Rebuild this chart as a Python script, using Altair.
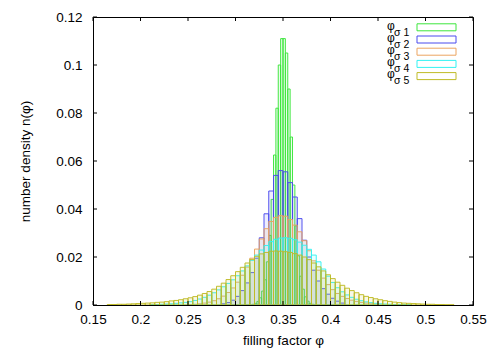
import altair as alt
import pandas as pd

# ---------------- data ----------------
series_names = ["1", "2", "3", "4", "5"]
stroke_colors = ["#3ce63c", "#4a4aee", "#eba460", "#33f2f2", "#bfbb26"]
fill_colors = ["#3ce63c", "#4a4aee", "#eba460", "#33f2f2", "#bfbb26"]

# series 1 (bins 0.0025 wide, first left edge 0.3175)
s1_start, s1_width = 0.3175, 0.0025
s1_vals = [0.0003, 0.0007, 0.0015, 0.0030, 0.0058, 0.0105, 0.0180, 0.0290,
           0.0440, 0.0625, 0.0820, 0.1000, 0.1110, 0.1110, 0.1050, 0.0900,
           0.0700, 0.0500, 0.0330, 0.0205, 0.0120, 0.0066, 0.0034, 0.0016,
           0.0007, 0.0003]

# series 2 (bins 0.005 wide, first left edge 0.285)
s2_start, s2_width = 0.285, 0.005
s2_vals = [0.0005, 0.0010, 0.0020, 0.0036, 0.0060, 0.0092, 0.0135, 0.0195,
           0.0280, 0.0380, 0.0475, 0.0540, 0.0560, 0.0555, 0.0510, 0.0450,
           0.0360, 0.0270, 0.0200, 0.0145, 0.0100, 0.0068, 0.0045, 0.0028,
           0.0016, 0.0008]

# series 3 (first left edge 0.25)
s3_start, s3_width = 0.25, 0.005
s3_vals = [0.0002, 0.0003, 0.0005, 0.0008, 0.0012, 0.0018, 0.0026, 0.0037,
           0.0052, 0.0071, 0.0095, 0.0124, 0.0158, 0.0195, 0.0233, 0.0275,
           0.0318, 0.0348, 0.0365, 0.0372, 0.0370, 0.0356, 0.0333, 0.0305,
           0.0268, 0.0226, 0.0184, 0.0145, 0.0112, 0.0085, 0.0064, 0.0048,
           0.0036, 0.0027, 0.0020, 0.0015, 0.0011, 0.0008, 0.0005, 0.0003]

# series 4 (first left edge 0.21)
s4_start, s4_width = 0.21, 0.005
s4_vals = [0.0001, 0.0002, 0.0003, 0.0004, 0.0005, 0.0007, 0.0009, 0.0011,
           0.0014, 0.0019, 0.0025, 0.0032, 0.0041, 0.0051, 0.0063, 0.0076,
           0.0090, 0.0105, 0.0122, 0.0142, 0.0163, 0.0186, 0.0208, 0.0229,
           0.0248, 0.0264, 0.0274, 0.0279, 0.0280, 0.0278, 0.0272, 0.0262,
           0.0249, 0.0232, 0.0208, 0.0180, 0.0150, 0.0120, 0.0094, 0.0072,
           0.0055, 0.0042, 0.0032, 0.0024, 0.0018, 0.0013, 0.0010, 0.0007,
           0.0005, 0.0004, 0.0003, 0.0002, 0.0002, 0.0001, 0.0001]

# series 5 (first left edge 0.165)
s5_start, s5_width = 0.165, 0.005
s5_vals = [0.0002, 0.0002, 0.0003, 0.0003, 0.0004, 0.0005, 0.0006, 0.0007,
           0.0008, 0.0009, 0.0011, 0.0012, 0.0014, 0.0017, 0.0019, 0.0022,
           0.0026, 0.0030, 0.0035, 0.0041, 0.0048, 0.0056, 0.0066, 0.0078,
           0.0091, 0.0106, 0.0122, 0.0139, 0.0157, 0.0175, 0.0190, 0.0203,
           0.0213, 0.0219, 0.0224, 0.0225, 0.0224, 0.0222, 0.0219, 0.0214,
           0.0208, 0.0200, 0.0189, 0.0175, 0.0159, 0.0142, 0.0126, 0.0110,
           0.0095, 0.0082, 0.0070, 0.0060, 0.0051, 0.0043, 0.0036, 0.0031,
           0.0026, 0.0022, 0.0018, 0.0015, 0.0012, 0.0010, 0.0008, 0.0007,
           0.0006, 0.0005, 0.0004, 0.0003, 0.0003, 0.0002, 0.0002, 0.0001,
           0.0001]

x_ticks = [0.15, 0.2, 0.25, 0.3, 0.35, 0.4, 0.45, 0.5, 0.55]
y_ticks = [0, 0.02, 0.04, 0.06, 0.08, 0.1, 0.12]

# ---------------- build table ----------------
rows = []
for name, start, width, vals in [
    ("1", s1_start, s1_width, s1_vals),
    ("2", s2_start, s2_width, s2_vals),
    ("3", s3_start, s3_width, s3_vals),
    ("4", s4_start, s4_width, s4_vals),
    ("5", s5_start, s5_width, s5_vals),
]:
    for i, v in enumerate(vals):
        x0 = round(start + i * width, 6)
        rows.append({"series": name, "x0": x0, "x1": round(x0 + width, 6), "n": v, "base": 0.0})
df = pd.DataFrame(rows)

W, H = 380, 288
FONT = "Liberation Sans"

xscale = alt.Scale(domain=[0.15, 0.55], nice=False, zero=False)
yscale = alt.Scale(domain=[0, 0.12], nice=False)

bars = alt.Chart(df).mark_bar(strokeWidth=1, fillOpacity=0.1, strokeOpacity=0.95).encode(
    x=alt.X("x0:Q", scale=xscale,
            axis=alt.Axis(values=x_ticks, format=".2~f", title="filling factor φ",
                          ticks=False, labelPadding=7, titleY=39, labelFlush=False,
                          labelOverlap=False,
                          titleBaseline="alphabetic", domainColor="black",
                          zindex=1)),
    x2="x1:Q",
    y=alt.Y("n:Q", stack=None, scale=yscale,
            axis=alt.Axis(values=y_ticks, format=".2~f", title="number density n(φ)",
                          ticks=False, labelPadding=11, titleX=-64, titleY=H / 2,
                          labelFlush=False, labelOverlap=False,
                          titleAngle=-90, titleBaseline="alphabetic",
                          titleAlign="center", domainColor="black", zindex=1)),
    y2="base:Q",
    fill=alt.Fill("series:N", scale=alt.Scale(domain=series_names, range=fill_colors), legend=None),
    stroke=alt.Stroke("series:N", scale=alt.Scale(domain=series_names, range=stroke_colors), legend=None),
)

xt_df = pd.DataFrame({"x0": x_ticks})
yt_df = pd.DataFrame({"n": y_ticks})
TL = 4
tick_b = alt.Chart(xt_df).mark_rule(color="black").encode(
    x=alt.X("x0:Q"), y=alt.value(H), y2=alt.value(H - TL))
tick_t = alt.Chart(xt_df).mark_rule(color="black").encode(
    x=alt.X("x0:Q"), y=alt.value(0), y2=alt.value(TL))
tick_l = alt.Chart(yt_df).mark_rule(color="black").encode(
    y=alt.Y("n:Q"), x=alt.value(0), x2=alt.value(TL))
tick_r = alt.Chart(yt_df).mark_rule(color="black").encode(
    y=alt.Y("n:Q"), x=alt.value(W), x2=alt.value(W - TL))

one = pd.DataFrame({"a": [0]})
legend_layers = []
for i, (name, col) in enumerate(zip(series_names, stroke_colors)):
    cy = 10.3 + 12.2 * i
    legend_layers.append(
        alt.Chart(one).mark_rect(fillOpacity=0, stroke=col, strokeWidth=1).encode(
            x=alt.value(324), x2=alt.value(363), y=alt.value(cy - 3.5), y2=alt.value(cy + 3.5)))
    legend_layers.append(
        alt.Chart(one).mark_text(text="φ", align="left", baseline="alphabetic",
                                 fontSize=12, font=FONT, color="black").encode(
            x=alt.value(294), y=alt.value(cy + 2.3)))
    legend_layers.append(
        alt.Chart(one).mark_text(text=f"σ {name}", align="left", baseline="alphabetic",
                                 fontSize=10.5, font=FONT, color="black").encode(
            x=alt.value(301), y=alt.value(cy + 8.3)))

chart = alt.layer(bars, tick_b, tick_t, tick_l, tick_r, *legend_layers).properties(
    width=W, height=H,
    autosize=alt.AutoSizeParams(type="none"),
    padding={"left": 85, "top": 9, "right": 19, "bottom": 45},
).configure_view(
    stroke="black", strokeWidth=1
).configure_axis(
    labelFont=FONT, titleFont=FONT, labelFontSize=13.5, titleFontSize=13.5,
    labelColor="black", titleColor="black", titleFontWeight="normal", grid=False,
    domainWidth=1,
)

chart.save("out.html", embed_options={"renderer": "svg", "actions": False})
